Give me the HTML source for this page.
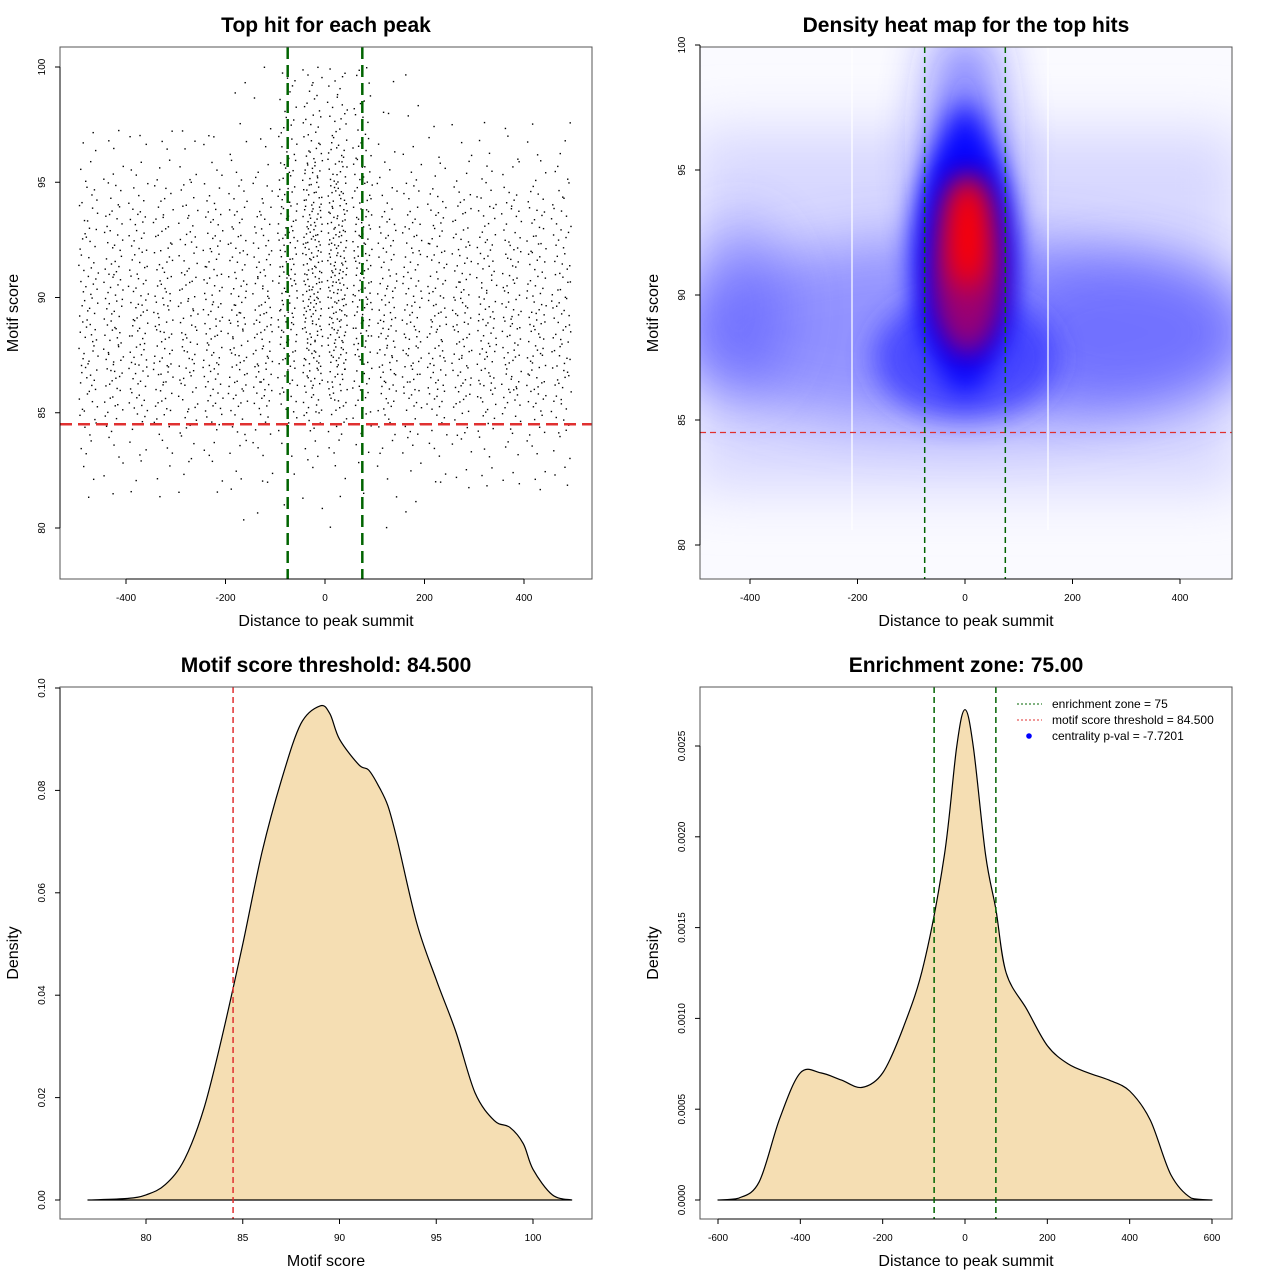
<!DOCTYPE html>
<html><head><meta charset="utf-8"><style>
html,body{margin:0;padding:0;background:#fff}
svg{display:block;font-family:"Liberation Sans",sans-serif}
</style></head><body>
<svg id="chart" width="1280" height="1280" viewBox="0 0 1280 1280" xmlns="http://www.w3.org/2000/svg">
<defs>
<filter id="blur" filterUnits="userSpaceOnUse" x="600" y="-100" width="740" height="800"><feGaussianBlur stdDeviation="28"/></filter>
<filter id="blur2" filterUnits="userSpaceOnUse" x="600" y="-100" width="740" height="800"><feGaussianBlur stdDeviation="14"/></filter>
<clipPath id="clip2"><rect x="700" y="47" width="532" height="532"/></clipPath>
</defs>
</svg>
<script>
// ---------- data ----------
const scatterXBins = [-500,-450,-400,-350,-300,-250,-200,-150,-100,-50,0,50,100,150,200,250,300,350,400,450];
const scatterXCounts = [95,100,100,100,95,100,105,110,150,230,230,150,110,105,100,100,100,100,100,95];
const scatterYBins = [78,79,80,81,82,83,84,85,86,87,88,89,90,91,92,93,94,95,96,97,98,99];
const yProfileFlank = [0.2,0.3,0.5,1,2,3,5,8,10,10,10,10,9,8,8,7,5,3,2,1,0.5,0.5];
const yProfileCenter = [0,0.2,0.3,0.5,1,1.5,3,5,7,8,9,10,10,10,10,9,8,7,5,4,3,3];
// Panel 2: density blobs
const heatBlobsX = [0, -420, 300, 0, 0, 0, 0, 5, 5, 5];
const heatBlobsY = [88.5, 89.5, 88.5, 96, 87.5, 91.5, 91.8, 90.2, 91, 92.5];
const heatBlobsRX = [560, 90, 220, 55, 170, 95, 70, 50, 60, 40];
const heatBlobsRY = [3.8, 3.5, 3, 5, 2.5, 4.5, 5.8, 2, 3.5, 2.3];
const heatBlobsOpacity = [0.5, 0.4, 0.4, 0.75, 0.75, 1, 0.9, 0.8, 0.8, 1];
const heatBlobsColor = ['#5050ff','#4040ff','#4040ff','#2020ff','#3030ff','#0000ff','#0000ff','#b00050','#a00070','#ff0000'];
// Panel 3
const scoreX = [77,79,80,81,82,83,84,85,86,87,88,89,89.5,90,91,91.5,92,92.5,93,94,95,96,97,98,98.8,99.5,100,101,102];
const scoreD = [0,0.0003,0.001,0.003,0.008,0.018,0.033,0.05,0.068,0.082,0.093,0.0965,0.095,0.09,0.085,0.084,0.081,0.077,0.07,0.054,0.043,0.033,0.021,0.0155,0.0142,0.011,0.006,0.001,0];
// Panel 4
const distX = [-600,-550,-500,-450,-400,-350,-300,-250,-200,-150,-100,-50,-20,0,20,50,75,100,150,200,250,300,350,400,450,500,550,600];
const distD = [0,0.00001,0.0001,0.00045,0.0007,0.0007,0.00066,0.00062,0.0007,0.00095,0.0013,0.0019,0.0025,0.0027,0.0025,0.0019,0.0016,0.00125,0.00105,0.00085,0.00075,0.0007,0.00066,0.0006,0.00044,0.00014,0.00001,0];

const xTicks1 = [-400,-200,0,200,400];
const yTicks1 = [80,85,90,95,100];
const xTicks3 = [80,85,90,95,100];
const yTicks3 = [0,0.02,0.04,0.06,0.08,0.10];
const yTickLabels3 = ['0.00','0.02','0.04','0.06','0.08','0.10'];
const xTicks4 = [-600,-400,-200,0,200,400,600];
const yTicks4 = [0,0.0005,0.001,0.0015,0.002,0.0025];
const yTickLabels4 = ['0.0000','0.0005','0.0010','0.0015','0.0020','0.0025'];

// ---------- helpers ----------
const NS='http://www.w3.org/2000/svg';
const svg=document.getElementById('chart');
function el(tag, attrs, parent){const e=document.createElementNS(NS,tag);for(const k in attrs)e.setAttribute(k,attrs[k]);(parent||svg).appendChild(e);return e;}
function lin(d0,d1,r0,r1){return v=>r0+(v-d0)*(r1-r0)/(d1-d0);}
function txt(x,y,s,size,opts,parent){const t=el('text',Object.assign({x:x,y:y,'font-size':size,'text-anchor':'middle',fill:'#000'},opts||{}),parent);t.textContent=s;return t;}

function axes(box, sx, sy, xt, xl, yt, yl, title, xtitle, ytitle, prefix){
  const g=el('g',{});
  
  
  const bx=el('rect',{x:box.x,y:box.y,width:box.w,height:box.h,fill:'none',stroke:'#555','stroke-width':1},g);
  
  
  const by=box.y+box.h;
  el('line',{x1:sx(xt[0]),x2:sx(xt[xt.length-1]),y1:by,y2:by,stroke:'#000'},g);
  xt.forEach((v,i)=>{const x=sx(v);el('line',{x1:x,x2:x,y1:by,y2:by+5,stroke:'#000'},g);
    const t=txt(x,by+22,xl[i],10,{},g);
    
    });
  el('line',{x1:box.x,x2:box.x,y1:sy(yt[0]),y2:sy(yt[yt.length-1]),stroke:'#000'},g);
  yt.forEach((v,i)=>{const y=sy(v);el('line',{x1:box.x,x2:box.x-5,y1:y,y2:y,stroke:'#000'},g);
    const t=txt(box.x-15,y,yl[i],10,{transform:`rotate(-90 ${box.x-15} ${y})`},g);
    
    });
  const ti=txt(box.x+box.w/2,box.y-15,title,21,{'font-weight':'bold'},g);
  
  
  const xa=txt(box.x+box.w/2,by+47,xtitle,16,{},g);
  
  
  const yx=box.x-42, yy=box.y+box.h/2;
  const ya=txt(yx,yy,ytitle,16,{transform:`rotate(-90 ${yx} ${yy})`},g);
  
  
}
function halton(i,b){let f=1,r=0;while(i>0){f/=b;r+=f*(i%b);i=Math.floor(i/b);}return r;}

// ---------- Panel 1 ----------
(function(){
  const box={x:60,y:47,w:532,h:532};
  const sx=lin(0,400,325,524), sy=lin(80,100,528,67);
  const g=el('g',{});
  
  
  let idx=1;
  scatterXBins.forEach((xb,i)=>{
    const center=Math.abs(xb+25)<100;
    const prof=center?yProfileCenter:yProfileFlank;
    const tot=prof.reduce((a,b)=>a+b,0);
    scatterYBins.forEach((yb,j)=>{
      const n=Math.round(scatterXCounts[i]*prof[j]/tot);
      for(let k=0;k<n;k++){
        const xv=xb+5+40*halton(idx,2), yv=yb+halton(idx,3);
        idx++;
        el('rect',{x:sx(xv)-0.7,y:sy(yv)-0.7,width:1.4,height:1.4,fill:'#000'},g);
      }
    });
  });
  const tl=el('line',{x1:60,x2:592,y1:sy(84.5),y2:sy(84.5),stroke:'#e03030','stroke-width':2.5,'stroke-dasharray':'12,6'});
  
  
  [-75,75].forEach(v=>{const l=el('line',{x1:sx(v),x2:sx(v),y1:47,y2:579,stroke:'#006400','stroke-width':2.5,'stroke-dasharray':'12,6'});
    
    });
  axes(box,sx,sy,xTicks1,xTicks1.map(String),yTicks1,yTicks1.map(String),'Top hit for each peak','Distance to peak summit','Motif score','scatter');
})();

// ---------- Panel 2 ----------
(function(){
  const box={x:700,y:47,w:532,h:532};
  const sx=lin(0,400,965,1180), sy=lin(80,100,545,45);
  const g=el('g',{'clip-path':'url(#clip2)'});
  
  
  el('rect',{x:700,y:47,width:532,height:532,fill:'#fafaff'},g);
  el('rect',{x:690,y:130,width:552,height:360,fill:'#d8d8ff',filter:'url(#blur)'},g);
  heatBlobsX.forEach((xv,i)=>{
    const e=el('ellipse',{cx:sx(xv),cy:sy(heatBlobsY[i]),rx:heatBlobsRX[i]*0.5375,ry:heatBlobsRY[i]*25,fill:heatBlobsColor[i],opacity:heatBlobsOpacity[i],filter:i>=4?'url(#blur2)':'url(#blur)'},g);
    
    
  });
  [852,1048].forEach(x=>el('line',{x1:x,x2:x,y1:47,y2:530,stroke:'#fff','stroke-width':1.2},g));
  const tl=el('line',{x1:700,x2:1232,y1:sy(84.5),y2:sy(84.5),stroke:'#e03030','stroke-width':1.3,'stroke-dasharray':'6,4'});
  
  
  [-75,75].forEach(v=>{const l=el('line',{x1:sx(v),x2:sx(v),y1:47,y2:579,stroke:'#006400','stroke-width':1.5,'stroke-dasharray':'6,4'});
    
    });
  axes(box,sx,sy,xTicks1,xTicks1.map(String),yTicks1,yTicks1.map(String),'Density heat map for the top hits','Distance to peak summit','Motif score','heatmap');
})();

// ---------- density panel helper (smooth Catmull-Rom) ----------
function densityPanel(box,sx,sy,xs,ds,prefix){
  const pts=xs.map((x,i)=>[sx(x),sy(ds[i])]);
  let d=`M${pts[0][0]},${sy(0)} L${pts[0][0].toFixed(1)},${pts[0][1].toFixed(1)}`;
  for(let i=0;i<pts.length-1;i++){
    const p0=pts[Math.max(0,i-1)],p1=pts[i],p2=pts[i+1],p3=pts[Math.min(pts.length-1,i+2)];
    const c1=[p1[0]+(p2[0]-p0[0])/6,p1[1]+(p2[1]-p0[1])/6];
    const c2=[p2[0]-(p3[0]-p1[0])/6,p2[1]-(p3[1]-p1[1])/6];
    d+=` C${c1[0].toFixed(1)},${Math.min(c1[1],sy(0)).toFixed(1)} ${c2[0].toFixed(1)},${Math.min(c2[1],sy(0)).toFixed(1)} ${p2[0].toFixed(1)},${p2[1].toFixed(1)}`;
  }
  d+=` L${pts[pts.length-1][0]},${sy(0)} Z`;
  const p=el('path',{d:d,fill:'#f5deb3',stroke:'#000','stroke-width':1.2,'stroke-linejoin':'round'});
  
  
}

// ---------- Panel 3 ----------
(function(){
  const box={x:60,y:687,w:532,h:532};
  const sx=lin(80,100,146,533), sy=lin(0,0.1,1200,688);
  densityPanel(box,sx,sy,scoreX,scoreD,'score');
  const l=el('line',{x1:sx(84.5),x2:sx(84.5),y1:687,y2:1219,stroke:'#e03030','stroke-width':1.5,'stroke-dasharray':'6,4'});
  
  
  axes(box,sx,sy,xTicks3,xTicks3.map(String),yTicks3,yTickLabels3,'Motif score threshold: 84.500','Motif score','Density','score');
})();

// ---------- Panel 4 ----------
(function(){
  const box={x:700,y:687,w:532,h:532};
  const sx=lin(-600,600,718,1212), sy=lin(0,0.0025,1200,746);
  densityPanel(box,sx,sy,distX,distD,'distance');
  [-75,75].forEach(v=>{const l=el('line',{x1:sx(v),x2:sx(v),y1:687,y2:1219,stroke:'#006400','stroke-width':1.5,'stroke-dasharray':'6,4'});
    
    });
  axes(box,sx,sy,xTicks4,xTicks4.map(String),yTicks4,yTickLabels4,'Enrichment zone: 75.00','Distance to peak summit','Density','distance');
  const lg=el('g',{});
  
  
  const items=[['enrichment zone = 75','#006400','line'],['motif score threshold = 84.500','#e03030','line'],['centrality p-val = -7.7201','#0000ff','dot']];
  items.forEach((it,i)=>{
    const y=704+i*16;
    const e=el('g',{},lg);
    
    
    if(it[2]==='line') el('line',{x1:1017,x2:1042,y1:y,y2:y,stroke:it[1],'stroke-width':1,'stroke-dasharray':'2,2'},e);
    else el('circle',{cx:1029,cy:y,r:2.8,fill:it[1]},e);
    txt(1052,y+4,it[0],12,{'text-anchor':'start'},e);
  });
})();
</script>
</body></html>
